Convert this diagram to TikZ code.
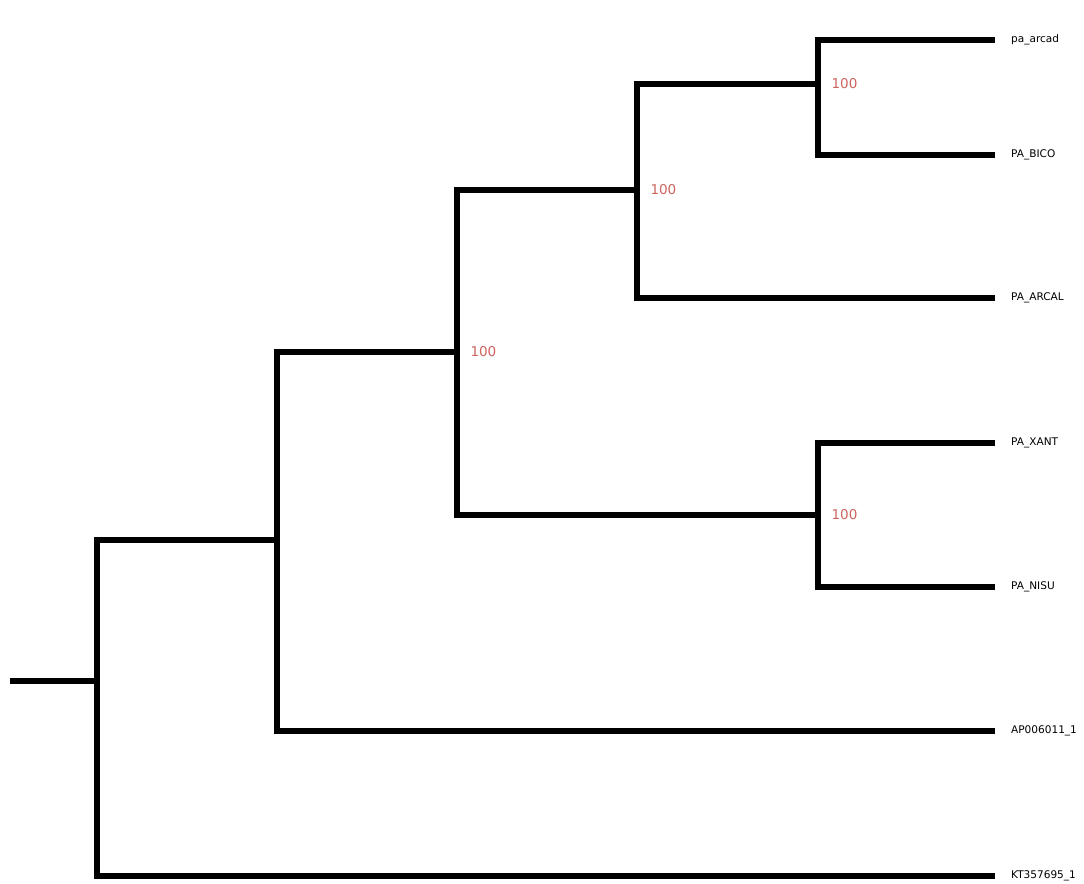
\documentclass[tikz,border=0pt]{standalone}
\usepackage{fontspec}
\setmainfont{DejaVu Sans}
\usepackage{tikz}
\usetikzlibrary{positioning}
\definecolor{bootred}{RGB}{205,100,95}

\begin{document}
\begin{tikzpicture}[x=0.02cm,y=-0.02cm,
  branch/.style={line width=3.1pt,black},
  leaf/.style={anchor=west,inner sep=0pt,font=\fontsize{6}{7}\selectfont},
  boot/.style={anchor=west,inner sep=0pt,text=bootred,font=\fontsize{7.7}{9}\selectfont}]
\useasboundingbox (0,0) rectangle (1084,884);
% internal nodes
\coordinate (root) at (10,681);
\coordinate (nA) at (97,681);
\coordinate (nB) at (277,540);
\coordinate (nC) at (457,352);
\coordinate (nD) at (637,190);
\coordinate (nE) at (818,84);
\coordinate (nF) at (818,515);
% tips
\coordinate (tArcad) at (995,40);
\coordinate (tBico) at (995,155);
\coordinate (tArcal) at (995,298);
\coordinate (tXant) at (995,443);
\coordinate (tNisu) at (995,587);
\coordinate (tAP) at (995,731);
\coordinate (tKT) at (995,876);
\draw[branch] (root) -- (nA);
\draw[branch] (nA) |- (nB);
\draw[branch] (nA) |- (tKT);
\draw[branch] (nB) |- (nC);
\draw[branch] (nB) |- (tAP);
\draw[branch] (nC) |- (nD);
\draw[branch] (nC) |- (nF);
\draw[branch] (nD) |- (nE);
\draw[branch] (nD) |- (tArcal);
\draw[branch] (nE) |- (tArcad);
\draw[branch] (nE) |- (tBico);
\draw[branch] (nF) |- (tXant);
\draw[branch] (nF) |- (tNisu);
% tip labels
\node[leaf,xshift=9pt] (lArcad) at (tArcad) {pa\_arcad};
\node[leaf,xshift=9pt] (lBico) at (tBico) {PA\_BICO};
\node[leaf,xshift=9pt] (lArcal) at (tArcal) {PA\_ARCAL};
\node[leaf,xshift=9pt] (lXant) at (tXant) {PA\_XANT};
\node[leaf,xshift=9pt] (lNisu) at (tNisu) {PA\_NISU};
\node[leaf,xshift=9pt] (lAP) at (tAP) {AP006011\_1};
\node[leaf,xshift=9pt] (lKT) at (tKT) {KT357695\_1};
% support values
\node[boot,xshift=7.5pt] (bC) at (nC) {100};
\node[boot,xshift=7.5pt] (bD) at (nD) {100};
\node[boot,xshift=7.5pt] (bE) at (nE) {100};
\node[boot,xshift=7.5pt] (bF) at (nF) {100};
\end{tikzpicture}
\end{document}
